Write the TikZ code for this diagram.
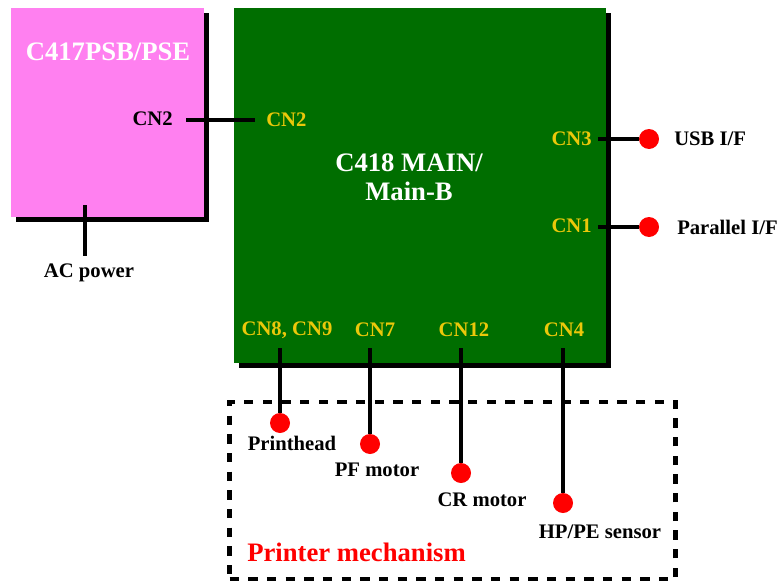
\documentclass[tikz,border=0pt]{standalone}
\usepackage{fontspec}
\setmainfont{Liberation Serif}
\usetikzlibrary{shadows}
\definecolor{pcbpink}{RGB}{255,128,240}
\definecolor{pcbgreen}{RGB}{0,110,0}
\definecolor{cnyellow}{RGB}{235,200,10}

\begin{document}
\begin{tikzpicture}[x=0.75pt, y=-0.75pt,
  board/.style={rectangle, inner sep=0, drop shadow={shadow xshift=4pt, shadow yshift=-4pt, fill=black, opacity=1}},
  title/.style={font=\fontsize{20}{22}\selectfont\bfseries, align=center, inner sep=0},
  cn/.style={font=\fontsize{15.5}{18}\selectfont\bfseries, text=cnyellow, inner sep=0},
  lbl/.style={font=\fontsize{15.5}{18}\selectfont\bfseries, inner sep=0},
  dot/.style={circle, fill=red, minimum size=15pt, inner sep=0},
  wire/.style={line width=3.5pt}]
    \useasboundingbox (0,0) rectangle (781,585);

    \node[draw, line width=3.5pt, dash pattern=on 7pt off 7pt, minimum width=334.5pt, minimum height=132.75pt] (mech) at (452.5,490.5) {};
    \node[title, text=red, anchor=west] (mechlbl) at (247,552) {Printer mechanism};

    \node[board, fill=pcbpink, minimum width=144.75pt, minimum height=156.75pt] (psb) at (107.5,112.5) {};
    \node[title, text=white] (psbname) at (108,52) {C417PSB/PSE};
    \node[board, fill=pcbgreen, minimum width=279pt, minimum height=266.25pt] (main) at (420,185.5) {};
    \node[title, text=white] (mainname) at (409,177) {C418 MAIN/\\Main-B};

    \node[lbl, anchor=east] (psbcn2) at (173,119) {CN2};
    \node[cn, anchor=west] (maincn2) at (266,120) {CN2};
    \coordinate (psbport) at (186,120);
    \coordinate (mainport) at (255,120);
    \draw[wire] (psbport) -- (mainport);

    \coordinate (acport) at (85,205);
    \coordinate (acend) at (85,256);
    \draw[wire] (acport) -- (acend);
    \node[lbl] (ac) at (89,273) {AC power};

    \node[cn, anchor=east] (cn3) at (592,139) {CN3};
    \node[cn, anchor=east] (cn1) at (592,226) {CN1};
    \coordinate (cn3port) at (598,139);
    \coordinate (cn1port) at (598,227);
    \node[dot] (usb) at (649,139) {};
    \node[dot] (par) at (649,227) {};
    \draw[wire] (cn3port) -- (usb);
    \draw[wire] (cn1port) -- (par);
    \node[lbl, anchor=west] (usblbl) at (674,139) {USB I/F};
    \node[lbl, anchor=west] (parlbl) at (677,227) {Parallel I/F};

    \node[cn] (cn89) at (287,330) {CN8, CN9};
    \node[cn] (cn7) at (375,330) {CN7};
    \node[cn] (cn12) at (464,330) {CN12};
    \node[cn] (cn4) at (564,330) {CN4};
    \coordinate (cn89port) at (280,348);
    \coordinate (cn7port) at (370,348);
    \coordinate (cn12port) at (461,348);
    \coordinate (cn4port) at (563,348);
    \node[dot] (head) at (280,423) {};
    \node[dot] (pf) at (370,444) {};
    \node[dot] (cr) at (461,473) {};
    \node[dot] (hp) at (563,503) {};
    \draw[wire] (cn89port) -- (head);
    \draw[wire] (cn7port) -- (pf);
    \draw[wire] (cn12port) -- (cr);
    \draw[wire] (cn4port) -- (hp);
    \node[lbl] (headlbl) at (292,443) {Printhead};
    \node[lbl] (pflbl) at (377,470) {PF motor};
    \node[lbl] (crlbl) at (482,500) {CR motor};
    \node[lbl] (hplbl) at (600,532) {HP/PE sensor};
\end{tikzpicture}
\end{document}
